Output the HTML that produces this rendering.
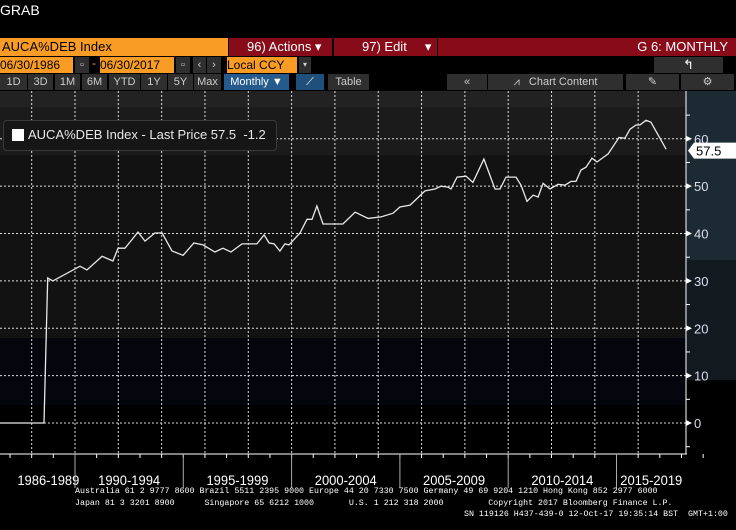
<!DOCTYPE html>
<html><head><meta charset="utf-8"><style>
body{margin:0;background:#000;width:736px;height:530px;overflow:hidden;font-family:"Liberation Sans",sans-serif;}
.a{position:absolute;box-sizing:border-box;white-space:nowrap;}
.or{background:#f89c25;color:#000;font-size:13px;}
.rd{background:#870b18;color:#fff;font-size:13px;}
.bt{background:#2f2f2f;color:#ccc;font-size:11px;text-align:center;line-height:16px;}
</style></head><body>
<div class="a" style="left:0;top:2px;color:#fff;font-size:14px;">GRAB</div>
<div class="a or" style="left:0;top:38px;width:228px;height:18px;padding-left:2px;line-height:18px;">AUCA%DEB Index</div>
<div class="a rd" style="left:229px;top:38px;width:103px;height:18px;line-height:18px;padding-left:18px;">96) Actions ▾</div>
<div class="a rd" style="left:334px;top:38px;width:103px;height:18px;line-height:18px;padding-left:28px;">97) Edit &nbsp; &nbsp; ▾</div>
<div class="a rd" style="left:438px;top:38px;width:298px;height:18px;line-height:18px;text-align:right;padding-right:8px;">G 6: MONTHLY</div>
<div class="a or" style="left:0;top:57px;width:73px;height:16px;line-height:16px;font-size:12px;">06/30/1986</div>
<div class="a bt" style="left:75px;top:57px;width:14px;height:16px;">▫</div>
<div class="a" style="left:92px;top:56px;color:#f89c25;font-size:12px;">-</div>
<div class="a or" style="left:100px;top:57px;width:74px;height:16px;line-height:16px;font-size:12px;">06/30/2017</div>
<div class="a bt" style="left:176px;top:57px;width:14px;height:16px;">▫</div>
<div class="a bt" style="left:193px;top:57px;width:13px;height:16px;">‹</div>
<div class="a bt" style="left:207px;top:57px;width:14px;height:16px;">›</div>
<div class="a or" style="left:227px;top:57px;width:70px;height:16px;line-height:16px;font-size:12px;">Local CCY</div>
<div class="a bt" style="left:299px;top:57px;width:12px;height:16px;font-size:8px;">▾</div>
<div class="a bt" style="left:654px;top:57px;width:69px;height:16px;color:#fff;font-size:13px;">↰</div>
<div class="a bt" style="left:0;top:74px;width:27px;height:16px;">1D</div>
<div class="a bt" style="left:28px;top:74px;width:25px;height:16px;">3D</div>
<div class="a bt" style="left:55px;top:74px;width:25px;height:16px;">1M</div>
<div class="a bt" style="left:82px;top:74px;width:25px;height:16px;">6M</div>
<div class="a bt" style="left:109px;top:74px;width:31px;height:16px;">YTD</div>
<div class="a bt" style="left:141px;top:74px;width:26px;height:16px;">1Y</div>
<div class="a bt" style="left:168px;top:74px;width:25px;height:16px;">5Y</div>
<div class="a bt" style="left:194px;top:74px;width:27px;height:16px;">Max</div>
<div class="a bt" style="left:224px;top:74px;width:65px;height:16px;background:#245a8c;color:#fff;">Monthly ▼</div>
<div class="a bt" style="left:296px;top:74px;width:28px;height:16px;background:#1f4f7a;color:#fff;">⟋</div>
<div class="a bt" style="left:328px;top:74px;width:41px;height:16px;">Table</div>
<div class="a bt" style="left:447px;top:74px;width:40px;height:16px;">«</div>
<div class="a bt" style="left:488px;top:74px;width:135px;height:16px;">⩘ &nbsp; Chart Content</div>
<div class="a bt" style="left:626px;top:74px;width:53px;height:16px;">✎</div>
<div class="a bt" style="left:681px;top:74px;width:53px;height:16px;">⚙</div>

<svg class="a" style="left:0;top:0" width="736" height="530" id="chart"></svg>

<div class="a" style="left:3px;top:120px;width:274px;height:31px;border:1px solid #3a3a3a;border-radius:4px;background:#161616;"></div>
<div class="a" style="left:12px;top:129px;width:12px;height:12px;background:#fff;"></div>
<div class="a" style="left:28px;top:127px;color:#e8e8e8;font-size:13px;">AUCA%DEB Index - Last Price 57.5 &nbsp;-1.2</div>

<div class="a" style="left:75px;top:486px;color:#fff;font-family:'Liberation Mono',monospace;font-size:8.3px;line-height:12px;">Australia 61 2 9777 8600 Brazil 5511 2395 9000 Europe 44 20 7330 7500 Germany 49 69 9204 1210 Hong Kong 852 2977 6000<br>Japan 81 3 3201 8900 &nbsp; &nbsp; &nbsp;Singapore 65 6212 1000 &nbsp; &nbsp; &nbsp; U.S. 1 212 318 2000 &nbsp; &nbsp; &nbsp; &nbsp; Copyright 2017 Bloomberg Finance L.P.</div>
<div class="a" style="left:464px;top:510px;color:#fff;font-family:'Liberation Mono',monospace;font-size:8.3px;">SN 119126 H437-439-0 12-Oct-17 19:35:14 BST &nbsp;GMT+1:00</div>

<script>
const dates=[1986.5,1988.57,1988.74,1988.98,1990.23,1990.55,1991.25,1991.75,1991.99,1992.31,1992.91,1993.23,1993.69,1994.02,1994.48,1994.99,1995.49,1995.91,1996.46,1996.83,1997.2,1997.71,1998.4,1998.73,1998.96,1999.19,1999.46,1999.69,1999.88,2000.39,2000.71,2000.94,2001.17,2001.45,2002.37,2002.93,2003.53,2004.13,2004.68,2005,2005.47,2006.16,2006.62,2006.9,2007.22,2007.36,2007.64,2008.05,2008.37,2008.88,2009.39,2009.62,2009.9,2010.36,2010.59,2010.87,2011.15,2011.38,2011.61,2011.93,2012.3,2012.62,2012.9,2013.13,2013.36,2013.59,2013.87,2014.1,2014.61,2015.12,2015.39,2015.62,2015.9,2016.08,2016.36,2016.59,2017.01,2017.29];
const values=[0,0,30.6,30,33.1,32.3,35.2,34.2,36.9,36.9,40.3,38.4,40.1,40.1,36.3,35.4,38,37.6,36.1,36.9,36.1,37.8,37.8,39.7,38,37.8,36.3,37.8,37.6,40.1,43,43,45.8,42,42,44.5,43.2,43.5,44.3,45.6,46,49,49.4,50,49.8,49.4,51.9,52.1,50.8,55.7,49.4,49.4,51.9,51.9,50.2,46.8,48.1,47.7,50.6,49.4,50.4,50.2,51,51,53.4,54,55.9,55.1,56.8,60.3,60.1,62,62.9,62.9,63.9,63.5,60.1,57.8];
const yTicks=[0,10,20,30,40,50,60];
const periodLabels=["1986-1989","1990-1994","1995-1999","2000-2004","2005-2009","2010-2014","2015-2019"];
const periodStarts=[1986,1990,1995,2000,2005,2010,2015];
const lastPrice=57.5;

const NS="http://www.w3.org/2000/svg";
const svg=document.getElementById('chart');
const X=y=>75+(y-1990)*21.66;
const Y=v=>423-v*4.737;
function el(t,a){const e=document.createElementNS(NS,t);for(const k in a)e.setAttribute(k,a[k]);svg.appendChild(e);return e;}
let b;
b=el('rect',{x:0,y:91,width:686,height:16,fill:'#222'});

b=el('rect',{x:0,y:107,width:686,height:48,fill:'#1b1b1b'});

b=el('rect',{x:0,y:155,width:686,height:183,fill:'#121212'});

b=el('rect',{x:0,y:338,width:686,height:67,fill:'#05050d'});

b=el('rect',{x:686,y:91,width:50,height:363,fill:'#1c2b33'});

b=el('rect',{x:686,y:260,width:50,height:120,fill:'#121a20'});

b=el('rect',{x:686,y:380,width:50,height:74,fill:'#000'});

for(let yr=1988;yr<=2016;yr+=2){
  const g=el('line',{x1:X(yr),x2:X(yr),y1:91,y2:454,stroke:'#ddd','stroke-dasharray':'2,2','stroke-width':1});
  
  
}
yTicks.forEach(v=>{
  const g=el('line',{x1:0,x2:686,y1:Y(v),y2:Y(v),stroke:'#ddd','stroke-dasharray':'2,2'});
  
  
  const m=el('path',{d:`M686 ${Y(v)-3}L692 ${Y(v)}L686 ${Y(v)+3}Z`,fill:'#fff'});
  
  
  const t=el('text',{x:694,y:Y(v)+5,fill:'#dde',"font-size":13,"font-family":"Liberation Sans, sans-serif"});
  t.textContent=v;
  
  
  const mn=el('line',{x1:686,x2:690,y1:Y(v+5),y2:Y(v+5),stroke:'#fff'});
  
  
});
const mn0=el('line',{x1:686,x2:690,y1:Y(-5),y2:Y(-5),stroke:'#fff'});


let ax=el('line',{x1:686,x2:686,y1:91,y2:454,stroke:'#fff'});

ax=el('line',{x1:0,x2:687,y1:454,y2:454,stroke:'#fff'});

for(let yr=1987;yr<=2019;yr++){
  const t=el('line',{x1:X(yr),x2:X(yr),y1:454,y2:458,stroke:'#fff'});
  
  
}
periodStarts.forEach((s,i)=>{
  if(i>0){const d=el('line',{x1:X(s),x2:X(s),y1:454,y2:488,stroke:'#aaa'});
    
    }
  const x0=Math.max(0,X(s)),x1=Math.min(686,X(s+5));
  const t=el('text',{x:(x0+x1)/2,y:485,fill:'#fff','font-size':14,'text-anchor':'middle','font-family':'Liberation Sans, sans-serif','textLength':62,'lengthAdjust':'spacingAndGlyphs'});
  t.textContent=periodLabels[i];
  
  
});
const pts=dates.map((d,i)=>`${X(d).toFixed(1)},${Y(values[i]).toFixed(1)}`).join(' ');
const ln=el('polyline',{points:pts,fill:'none',stroke:'#e8e8e8','stroke-width':1.3});


const ly=Y(lastPrice);
const tag=el('path',{d:`M688 ${ly}L694 ${ly-8}H736V${ly+8}H694Z`,fill:'#fff'});


const tt=el('text',{x:696,y:ly+5,fill:'#000','font-size':13,'font-family':'Liberation Sans, sans-serif'});
tt.textContent=lastPrice.toFixed(1);


</script>
</body></html>
